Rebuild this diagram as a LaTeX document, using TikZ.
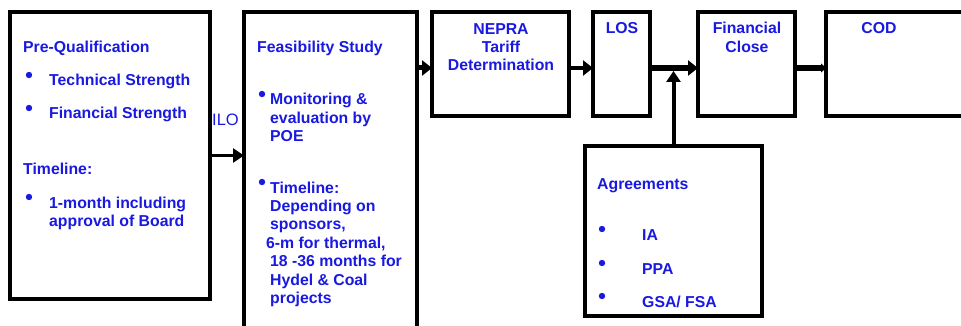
\documentclass[tikz,border=0pt]{standalone}
\usepackage{fontspec}
\setmainfont{Liberation Sans}
\usepackage{tikz}
\usetikzlibrary{arrows.meta}
\usetikzlibrary{positioning}

\definecolor{txtblue}{RGB}{25,25,225}

\tikzset{
	stage/.style={draw, line width=4.5pt, fill=white, anchor=north west, inner sep=0pt, outer sep=0pt},
	lbl/.style={text=txtblue, font=\bfseries\fontsize{15.8}{18.4}\selectfont, inner sep=0pt, align=left},
	ctrlbl/.style={lbl, align=center},
	bullet/.style={circle, fill=txtblue, inner sep=0pt, minimum size=6.4pt},
	flow/.style={line width=5pt, -{Triangle[length=10pt,width=15pt]}},
}

\begin{document}
\begin{tikzpicture}[x=1pt, y=-1pt]
	\clip (0,0) rectangle (961,326);
	\fill[white] (0,0) rectangle (961,326);

	% half-hidden label between the first two boxes
	\node[text=txtblue, font=\fontsize{16.5}{18}\selectfont, inner sep=0pt, anchor=base west] (loi) at (212,126) {ILO};

	% boxes
	\node[stage, minimum width=200pt, minimum height=287pt] (prequal) at (10,12) {};
	\node[stage, minimum width=173pt, minimum height=330pt] (feas) at (244,12) {};
	\node[stage, minimum width=137pt, minimum height=104pt] (nepra) at (432,12) {};
	\node[stage, minimum width=57pt, minimum height=104pt] (los) at (593,12) {};
	\node[stage, minimum width=97pt, minimum height=104pt] (fclose) at (698,12) {};
	\node[stage, minimum width=170pt, minimum height=104pt] (cod) at (826,12) {};
	\node[stage, minimum width=177pt, minimum height=170pt] (agree) at (585,146) {};

	% Pre-Qualification (base = last line)
	\node[lbl, anchor=base west] (pqhead) at (23,53) {Pre-Qualification};
	\node[bullet] (pqb1) at (29,75) {};
	\node[lbl, anchor=base west] (pqtech) at (49,86) {Technical Strength};
	\node[bullet] (pqb2) at (29,108) {};
	\node[lbl, anchor=base west] (pqfin) at (49,119) {Financial Strength};
	\node[lbl, anchor=base west] (pqtime) at (23,175) {Timeline:};
	\node[bullet] (pqb3) at (29,197) {};
	\node[lbl, anchor=base west] (pqmonth) at (49,226.4) {1-month including\\approval of Board};

	% Feasibility Study
	\node[lbl, anchor=base west] (fshead) at (257,53) {Feasibility Study};
	\node[bullet] (fsb1) at (262,94) {};
	\node[lbl, anchor=base west] (fsmon) at (270,141.8) {Monitoring \&\\evaluation by\\POE};
	\node[bullet] (fsb2) at (262,182) {};
	\node[lbl, anchor=base west] (fstime) at (270,303.4) {Timeline:\\Depending on\\sponsors,\\\hspace*{-4pt}6-m for thermal,\\18 -36 months for\\Hydel \& Coal\\projects};

	% top row
	\node[ctrlbl, anchor=base] (nepralbl) at (501,71) {NEPRA\\Tariff\\Determination};
	\node[ctrlbl, anchor=base] (loslbl) at (622,34) {LOS};
	\node[ctrlbl, anchor=base] (fcloselbl) at (747,52.4) {Financial\\Close};
	\node[ctrlbl, anchor=base] (codlbl) at (879,34) {COD};

	% Agreements
	\node[lbl, anchor=base west] (aghead) at (597,189) {Agreements};
	\node[bullet] (agb1) at (602,229) {};
	\node[lbl, anchor=base west] (agia) at (642,240) {IA};
	\node[bullet] (agb2) at (602,263) {};
	\node[lbl, anchor=base west] (agppa) at (642,274) {PPA};
	\node[bullet] (agb3) at (602,296) {};
	\node[lbl, anchor=base west] (aggsa) at (642,307) {GSA/ FSA};

	% connectors
	\draw[flow, line width=3.5pt, -{Triangle[length=11pt,width=14pt]}] (prequal.east) -- (prequal.east -| feas.west);
	\draw[flow] ([yshift=-4pt]nepra.west -| feas.east) -- ([yshift=-4pt]nepra.west);
	\draw[flow, line width=4pt] ([yshift=-4pt]nepra.east) -- ([yshift=-4pt]los.west);
	\draw[flow, line width=6pt] ([yshift=-4pt]los.east) -- ([yshift=-4pt]fclose.west);
	\coordinate (join) at ([yshift=-4pt]los.east -| agree.north);
	\draw[flow, line width=4pt, -{Triangle[length=11pt,width=14pt]}] (agree.north) -- ([yshift=-3pt]join);
	\draw[flow, line width=6pt, -{Triangle[length=5pt,width=9pt]}] ([yshift=-4pt]fclose.east) -- ([yshift=-4pt]cod.west);
\end{tikzpicture}
\end{document}
